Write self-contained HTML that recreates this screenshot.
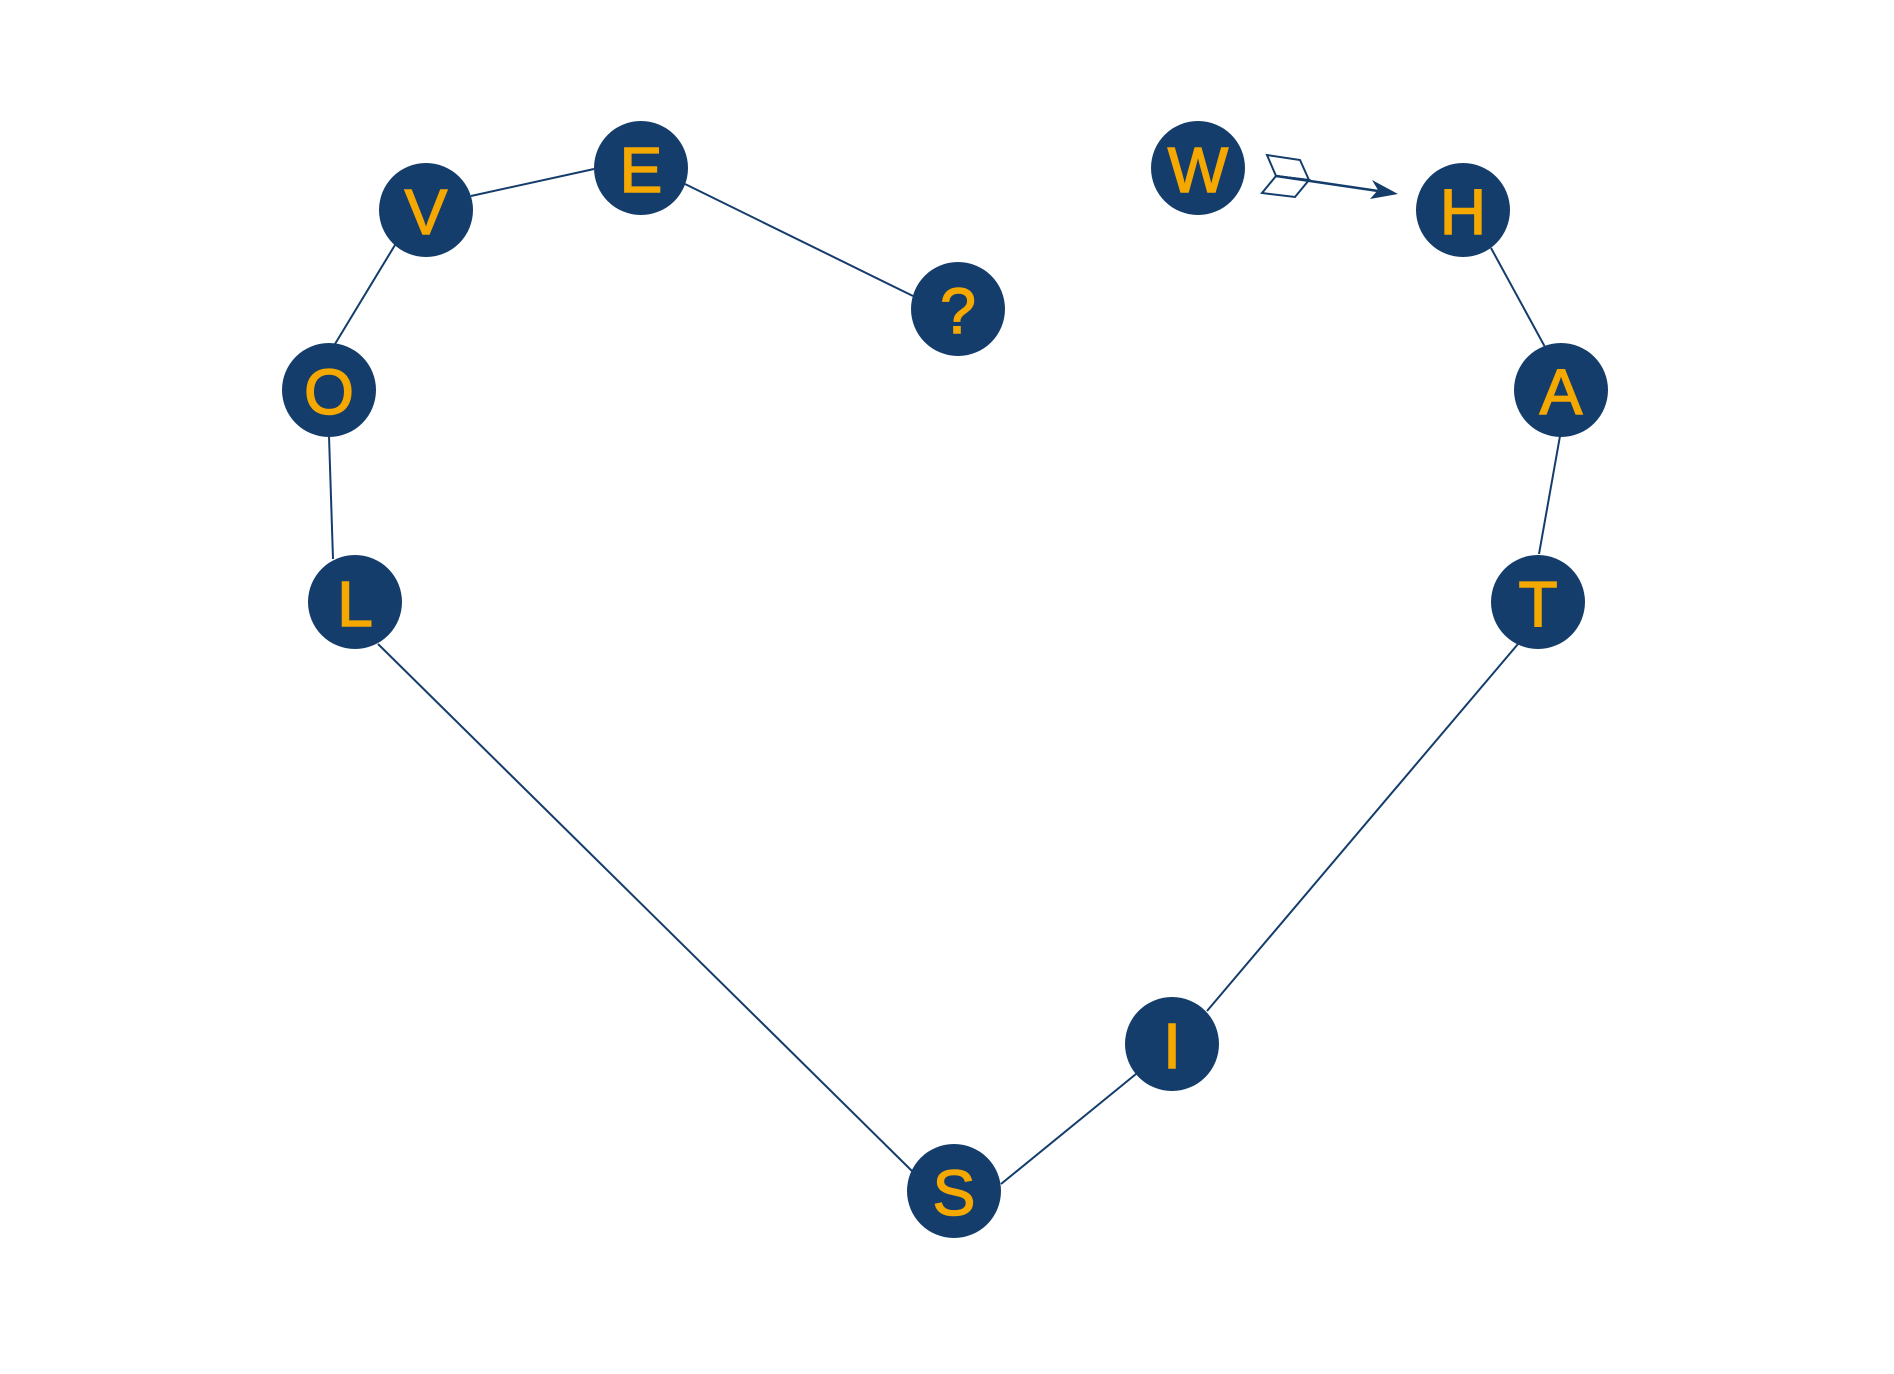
<!DOCTYPE html>
<html><head><meta charset="utf-8"><style>
html,body{margin:0;padding:0;background:#fff;width:1894px;height:1374px;overflow:hidden}
text{font-family:"Liberation Sans",sans-serif;font-size:64px;font-weight:normal;fill:#f5a800;stroke:#f5a800;stroke-width:1.5;text-anchor:middle;dominant-baseline:central}
</style></head><body>
<svg width="1894" height="1374" viewBox="0 0 1894 1374" xmlns="http://www.w3.org/2000/svg">
<g stroke="#143d6b" stroke-width="2" fill="none">
<line x1="471" y1="196" x2="594" y2="169"/>
<line x1="685" y1="184" x2="913" y2="296"/>
<line x1="395" y1="245" x2="335" y2="344"/>
<line x1="329" y1="436" x2="333" y2="559"/>
<line x1="378" y1="644" x2="912" y2="1171"/>
<line x1="1001" y1="1184" x2="1136" y2="1074"/>
<line x1="1207" y1="1011" x2="1518" y2="644"/>
<line x1="1539" y1="554" x2="1560" y2="436"/>
<line x1="1545" y1="347" x2="1491" y2="248"/>
<line x1="1276" y1="176" x2="1385" y2="192" stroke-width="2.5"/>
<polygon points="1267,155 1300,160 1309,180 1276,176"/>
<polygon points="1276,176 1309,180 1295,197 1262,193"/>
</g>
<polygon points="1398,194 1372,180 1378,190 1370,199" fill="#143d6b"/>
<g fill="#143d6b">
<circle cx="1198" cy="168" r="47"/>
<circle cx="1463" cy="210" r="47"/>
<circle cx="641" cy="168" r="47"/>
<circle cx="426" cy="210" r="47"/>
<circle cx="958" cy="309" r="47"/>
<circle cx="329" cy="390" r="47"/>
<circle cx="355" cy="602" r="47"/>
<circle cx="1561" cy="390" r="47"/>
<circle cx="1538" cy="602" r="47"/>
<circle cx="1172" cy="1044" r="47"/>
<circle cx="954" cy="1191" r="47"/>
</g>
<text x="1198" y="170">W</text>
<text x="1463" y="212">H</text>
<text x="641" y="170">E</text>
<text x="426" y="212">V</text>
<text x="958" y="311">?</text>
<text x="329" y="392">O</text>
<text x="355" y="604">L</text>
<text x="1561" y="392">A</text>
<text x="1538" y="604">T</text>
<text x="1172" y="1046">I</text>
<text x="954" y="1193">S</text>
</svg>
</body></html>
